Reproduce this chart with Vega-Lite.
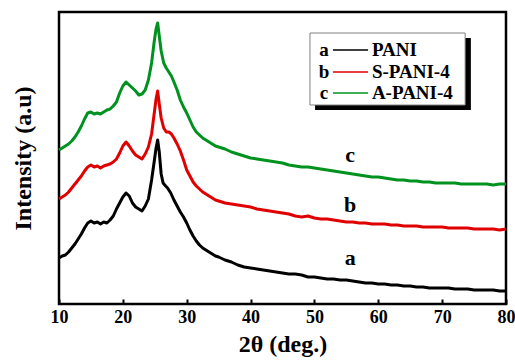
{
  "$schema": "https://vega.github.io/schema/vega-lite/v6.json",
  "width": 447,
  "height": 292,
  "autosize": {"type": "none"},
  "padding": {"left": 59, "top": 12, "right": 9, "bottom": 58},
  "background": "white",
  "config": {
    "view": {"stroke": "black", "strokeWidth": 2.5},
    "font": "Liberation Serif",
    "axis": {"grid": false}
  },
  "datasets": {
    "curves": [
      {"theta":10,"intensity":46,"sample":"a"},{"theta":10.5,"intensity":48,"sample":"a"},{"theta":11,"intensity":49,"sample":"a"},{"theta":11.5,"intensity":52,"sample":"a"},{"theta":12,"intensity":56,"sample":"a"},{"theta":12.5,"intensity":60,"sample":"a"},{"theta":13,"intensity":65,"sample":"a"},{"theta":13.5,"intensity":70,"sample":"a"},{"theta":14,"intensity":76,"sample":"a"},{"theta":14.5,"intensity":81,"sample":"a"},{"theta":15,"intensity":83,"sample":"a"},{"theta":15.5,"intensity":81,"sample":"a"},{"theta":16,"intensity":82,"sample":"a"},{"theta":16.5,"intensity":80,"sample":"a"},{"theta":17,"intensity":82,"sample":"a"},{"theta":17.5,"intensity":81,"sample":"a"},{"theta":18,"intensity":84,"sample":"a"},{"theta":18.5,"intensity":88,"sample":"a"},{"theta":19,"intensity":95,"sample":"a"},{"theta":19.5,"intensity":101,"sample":"a"},{"theta":20,"intensity":107,"sample":"a"},{"theta":20.5,"intensity":111,"sample":"a"},{"theta":21,"intensity":108,"sample":"a"},{"theta":21.5,"intensity":101,"sample":"a"},{"theta":22,"intensity":97,"sample":"a"},{"theta":22.5,"intensity":95,"sample":"a"},{"theta":23,"intensity":93,"sample":"a"},{"theta":23.5,"intensity":98,"sample":"a"},{"theta":24,"intensity":105,"sample":"a"},{"theta":24.5,"intensity":124,"sample":"a"},{"theta":24.9,"intensity":142,"sample":"a"},{"theta":25.2,"intensity":156,"sample":"a"},{"theta":25.45,"intensity":164,"sample":"a"},{"theta":25.7,"intensity":152,"sample":"a"},{"theta":26,"intensity":130,"sample":"a"},{"theta":26.3,"intensity":121,"sample":"a"},{"theta":26.7,"intensity":118,"sample":"a"},{"theta":27,"intensity":116,"sample":"a"},{"theta":27.5,"intensity":111,"sample":"a"},{"theta":28,"intensity":104,"sample":"a"},{"theta":28.5,"intensity":98,"sample":"a"},{"theta":29,"intensity":92,"sample":"a"},{"theta":29.5,"intensity":87,"sample":"a"},{"theta":30,"intensity":81,"sample":"a"},{"theta":30.5,"intensity":74,"sample":"a"},{"theta":31,"intensity":68,"sample":"a"},{"theta":31.5,"intensity":63,"sample":"a"},{"theta":32,"intensity":59,"sample":"a"},{"theta":32.5,"intensity":56,"sample":"a"},{"theta":33,"intensity":54,"sample":"a"},{"theta":33.5,"intensity":52,"sample":"a"},{"theta":34,"intensity":50,"sample":"a"},{"theta":34.5,"intensity":48,"sample":"a"},{"theta":35,"intensity":47,"sample":"a"},{"theta":36,"intensity":44,"sample":"a"},{"theta":37,"intensity":42,"sample":"a"},{"theta":38,"intensity":39,"sample":"a"},{"theta":39,"intensity":37,"sample":"a"},{"theta":40,"intensity":36,"sample":"a"},{"theta":41,"intensity":35,"sample":"a"},{"theta":42,"intensity":34,"sample":"a"},{"theta":43,"intensity":33,"sample":"a"},{"theta":44,"intensity":32,"sample":"a"},{"theta":45,"intensity":31,"sample":"a"},{"theta":46,"intensity":30,"sample":"a"},{"theta":47,"intensity":30,"sample":"a"},{"theta":48,"intensity":29,"sample":"a"},{"theta":49,"intensity":27,"sample":"a"},{"theta":50,"intensity":27,"sample":"a"},{"theta":51,"intensity":26,"sample":"a"},{"theta":52,"intensity":25,"sample":"a"},{"theta":53,"intensity":25,"sample":"a"},{"theta":54,"intensity":24,"sample":"a"},{"theta":55,"intensity":24,"sample":"a"},{"theta":56,"intensity":23,"sample":"a"},{"theta":57,"intensity":22,"sample":"a"},{"theta":58,"intensity":21,"sample":"a"},{"theta":59,"intensity":21,"sample":"a"},{"theta":60,"intensity":20,"sample":"a"},{"theta":61,"intensity":20,"sample":"a"},{"theta":62,"intensity":19,"sample":"a"},{"theta":63,"intensity":19,"sample":"a"},{"theta":64,"intensity":18,"sample":"a"},{"theta":65,"intensity":18,"sample":"a"},{"theta":66,"intensity":17,"sample":"a"},{"theta":67,"intensity":17,"sample":"a"},{"theta":68,"intensity":16,"sample":"a"},{"theta":69,"intensity":16,"sample":"a"},{"theta":70,"intensity":16,"sample":"a"},{"theta":71,"intensity":16,"sample":"a"},{"theta":72,"intensity":15,"sample":"a"},{"theta":73,"intensity":15,"sample":"a"},{"theta":74,"intensity":15,"sample":"a"},{"theta":75,"intensity":14,"sample":"a"},{"theta":76,"intensity":14,"sample":"a"},{"theta":77,"intensity":14,"sample":"a"},{"theta":78,"intensity":14,"sample":"a"},{"theta":79,"intensity":13,"sample":"a"},{"theta":80,"intensity":13,"sample":"a"},
      {"theta":10,"intensity":105,"sample":"b"},{"theta":10.5,"intensity":107,"sample":"b"},{"theta":11,"intensity":109,"sample":"b"},{"theta":11.5,"intensity":112,"sample":"b"},{"theta":12,"intensity":116,"sample":"b"},{"theta":12.5,"intensity":120,"sample":"b"},{"theta":13,"intensity":124,"sample":"b"},{"theta":13.5,"intensity":128,"sample":"b"},{"theta":14,"intensity":133,"sample":"b"},{"theta":14.5,"intensity":137,"sample":"b"},{"theta":15,"intensity":139,"sample":"b"},{"theta":15.5,"intensity":137,"sample":"b"},{"theta":16,"intensity":138,"sample":"b"},{"theta":16.5,"intensity":136,"sample":"b"},{"theta":17,"intensity":138,"sample":"b"},{"theta":17.5,"intensity":139,"sample":"b"},{"theta":18,"intensity":140,"sample":"b"},{"theta":18.5,"intensity":142,"sample":"b"},{"theta":19,"intensity":145,"sample":"b"},{"theta":19.5,"intensity":151,"sample":"b"},{"theta":20,"intensity":158,"sample":"b"},{"theta":20.5,"intensity":162,"sample":"b"},{"theta":21,"intensity":158,"sample":"b"},{"theta":21.5,"intensity":153,"sample":"b"},{"theta":22,"intensity":149,"sample":"b"},{"theta":22.5,"intensity":147,"sample":"b"},{"theta":23,"intensity":145,"sample":"b"},{"theta":23.5,"intensity":150,"sample":"b"},{"theta":24,"intensity":157,"sample":"b"},{"theta":24.5,"intensity":170,"sample":"b"},{"theta":24.9,"intensity":190,"sample":"b"},{"theta":25.2,"intensity":205,"sample":"b"},{"theta":25.45,"intensity":213,"sample":"b"},{"theta":25.7,"intensity":200,"sample":"b"},{"theta":26,"intensity":186,"sample":"b"},{"theta":26.4,"intensity":176,"sample":"b"},{"theta":26.8,"intensity":172,"sample":"b"},{"theta":27.2,"intensity":172,"sample":"b"},{"theta":27.6,"intensity":170,"sample":"b"},{"theta":28,"intensity":166,"sample":"b"},{"theta":28.5,"intensity":160,"sample":"b"},{"theta":29,"intensity":153,"sample":"b"},{"theta":29.5,"intensity":144,"sample":"b"},{"theta":30,"intensity":134,"sample":"b"},{"theta":30.5,"intensity":128,"sample":"b"},{"theta":31,"intensity":122,"sample":"b"},{"theta":31.5,"intensity":118,"sample":"b"},{"theta":32,"intensity":115,"sample":"b"},{"theta":32.5,"intensity":112,"sample":"b"},{"theta":33,"intensity":110,"sample":"b"},{"theta":33.5,"intensity":108,"sample":"b"},{"theta":34,"intensity":106,"sample":"b"},{"theta":34.5,"intensity":104,"sample":"b"},{"theta":35,"intensity":103,"sample":"b"},{"theta":36,"intensity":101,"sample":"b"},{"theta":37,"intensity":100,"sample":"b"},{"theta":38,"intensity":99,"sample":"b"},{"theta":39,"intensity":98,"sample":"b"},{"theta":40,"intensity":97,"sample":"b"},{"theta":41,"intensity":95,"sample":"b"},{"theta":42,"intensity":94,"sample":"b"},{"theta":43,"intensity":93,"sample":"b"},{"theta":44,"intensity":92,"sample":"b"},{"theta":45,"intensity":91,"sample":"b"},{"theta":46,"intensity":90,"sample":"b"},{"theta":47,"intensity":88,"sample":"b"},{"theta":48,"intensity":87,"sample":"b"},{"theta":49,"intensity":88,"sample":"b"},{"theta":50,"intensity":86,"sample":"b"},{"theta":51,"intensity":85,"sample":"b"},{"theta":52,"intensity":85,"sample":"b"},{"theta":53,"intensity":84,"sample":"b"},{"theta":54,"intensity":83,"sample":"b"},{"theta":55,"intensity":82,"sample":"b"},{"theta":56,"intensity":82,"sample":"b"},{"theta":57,"intensity":81,"sample":"b"},{"theta":58,"intensity":81,"sample":"b"},{"theta":59,"intensity":80,"sample":"b"},{"theta":60,"intensity":80,"sample":"b"},{"theta":61,"intensity":80,"sample":"b"},{"theta":62,"intensity":79,"sample":"b"},{"theta":63,"intensity":79,"sample":"b"},{"theta":64,"intensity":78,"sample":"b"},{"theta":65,"intensity":78,"sample":"b"},{"theta":66,"intensity":78,"sample":"b"},{"theta":67,"intensity":77,"sample":"b"},{"theta":68,"intensity":77,"sample":"b"},{"theta":69,"intensity":77,"sample":"b"},{"theta":70,"intensity":77,"sample":"b"},{"theta":71,"intensity":76,"sample":"b"},{"theta":72,"intensity":76,"sample":"b"},{"theta":73,"intensity":76,"sample":"b"},{"theta":74,"intensity":76,"sample":"b"},{"theta":75,"intensity":75,"sample":"b"},{"theta":76,"intensity":75,"sample":"b"},{"theta":77,"intensity":75,"sample":"b"},{"theta":78,"intensity":75,"sample":"b"},{"theta":79,"intensity":74,"sample":"b"},{"theta":80,"intensity":75,"sample":"b"},
      {"theta":10,"intensity":154,"sample":"c"},{"theta":10.5,"intensity":156,"sample":"c"},{"theta":11,"intensity":158,"sample":"c"},{"theta":11.5,"intensity":160,"sample":"c"},{"theta":12,"intensity":163,"sample":"c"},{"theta":12.5,"intensity":167,"sample":"c"},{"theta":13,"intensity":172,"sample":"c"},{"theta":13.5,"intensity":178,"sample":"c"},{"theta":14,"intensity":185,"sample":"c"},{"theta":14.5,"intensity":191,"sample":"c"},{"theta":15,"intensity":192,"sample":"c"},{"theta":15.5,"intensity":190,"sample":"c"},{"theta":16,"intensity":191,"sample":"c"},{"theta":16.5,"intensity":190,"sample":"c"},{"theta":17,"intensity":192,"sample":"c"},{"theta":17.5,"intensity":194,"sample":"c"},{"theta":18,"intensity":195,"sample":"c"},{"theta":18.5,"intensity":198,"sample":"c"},{"theta":19,"intensity":202,"sample":"c"},{"theta":19.5,"intensity":211,"sample":"c"},{"theta":20,"intensity":218,"sample":"c"},{"theta":20.5,"intensity":222,"sample":"c"},{"theta":21,"intensity":219,"sample":"c"},{"theta":21.5,"intensity":216,"sample":"c"},{"theta":22,"intensity":213,"sample":"c"},{"theta":22.5,"intensity":209,"sample":"c"},{"theta":23,"intensity":210,"sample":"c"},{"theta":23.5,"intensity":214,"sample":"c"},{"theta":24,"intensity":224,"sample":"c"},{"theta":24.5,"intensity":241,"sample":"c"},{"theta":24.9,"intensity":262,"sample":"c"},{"theta":25.2,"intensity":275,"sample":"c"},{"theta":25.45,"intensity":281,"sample":"c"},{"theta":25.7,"intensity":268,"sample":"c"},{"theta":26,"intensity":253,"sample":"c"},{"theta":26.4,"intensity":241,"sample":"c"},{"theta":26.8,"intensity":236,"sample":"c"},{"theta":27.2,"intensity":232,"sample":"c"},{"theta":27.6,"intensity":228,"sample":"c"},{"theta":28,"intensity":222,"sample":"c"},{"theta":28.5,"intensity":214,"sample":"c"},{"theta":29,"intensity":204,"sample":"c"},{"theta":29.5,"intensity":197,"sample":"c"},{"theta":30,"intensity":191,"sample":"c"},{"theta":30.5,"intensity":184,"sample":"c"},{"theta":31,"intensity":177,"sample":"c"},{"theta":31.5,"intensity":172,"sample":"c"},{"theta":32,"intensity":169,"sample":"c"},{"theta":32.5,"intensity":166,"sample":"c"},{"theta":33,"intensity":164,"sample":"c"},{"theta":33.5,"intensity":162,"sample":"c"},{"theta":34,"intensity":160,"sample":"c"},{"theta":34.5,"intensity":158,"sample":"c"},{"theta":35,"intensity":157,"sample":"c"},{"theta":36,"intensity":155,"sample":"c"},{"theta":37,"intensity":152,"sample":"c"},{"theta":38,"intensity":150,"sample":"c"},{"theta":39,"intensity":148,"sample":"c"},{"theta":40,"intensity":146,"sample":"c"},{"theta":41,"intensity":145,"sample":"c"},{"theta":42,"intensity":144,"sample":"c"},{"theta":43,"intensity":143,"sample":"c"},{"theta":44,"intensity":142,"sample":"c"},{"theta":45,"intensity":141,"sample":"c"},{"theta":46,"intensity":139,"sample":"c"},{"theta":47,"intensity":138,"sample":"c"},{"theta":48,"intensity":137,"sample":"c"},{"theta":49,"intensity":137,"sample":"c"},{"theta":50,"intensity":136,"sample":"c"},{"theta":51,"intensity":135,"sample":"c"},{"theta":52,"intensity":134,"sample":"c"},{"theta":53,"intensity":133,"sample":"c"},{"theta":54,"intensity":132,"sample":"c"},{"theta":55,"intensity":131,"sample":"c"},{"theta":56,"intensity":130,"sample":"c"},{"theta":57,"intensity":129,"sample":"c"},{"theta":58,"intensity":128,"sample":"c"},{"theta":59,"intensity":127,"sample":"c"},{"theta":60,"intensity":127,"sample":"c"},{"theta":61,"intensity":126,"sample":"c"},{"theta":62,"intensity":125,"sample":"c"},{"theta":63,"intensity":124,"sample":"c"},{"theta":64,"intensity":124,"sample":"c"},{"theta":65,"intensity":123,"sample":"c"},{"theta":66,"intensity":123,"sample":"c"},{"theta":67,"intensity":122,"sample":"c"},{"theta":68,"intensity":122,"sample":"c"},{"theta":69,"intensity":121,"sample":"c"},{"theta":70,"intensity":121,"sample":"c"},{"theta":71,"intensity":121,"sample":"c"},{"theta":72,"intensity":121,"sample":"c"},{"theta":73,"intensity":120,"sample":"c"},{"theta":74,"intensity":120,"sample":"c"},{"theta":75,"intensity":120,"sample":"c"},{"theta":76,"intensity":120,"sample":"c"},{"theta":77,"intensity":120,"sample":"c"},{"theta":78,"intensity":119,"sample":"c"},{"theta":79,"intensity":120,"sample":"c"},{"theta":80,"intensity":120,"sample":"c"}
    ],
    "curveLabels": [
      {"sample":"a","theta":55.6,"intensity":46},
      {"sample":"b","theta":55.6,"intensity":99},
      {"sample":"c","theta":55.6,"intensity":149}
    ],
    "legendRows": [
      {"sample":"a","name":"PANI","intensity":254},
      {"sample":"b","name":"S-PANI-4","intensity":232},
      {"sample":"c","name":"A-PANI-4","intensity":211}
    ]
  },
  "layer": [
    {
      "data": {"name": "curves"},
      "mark": {"type": "line", "strokeWidth": 3, "strokeJoin": "round"},
      "encoding": {
        "x": {
          "field": "theta", "type": "quantitative",
          "scale": {"domain": [10, 80], "nice": false, "zero": false},
          "axis": {
            "title": "2θ (deg.)",
            "values": [10,15,20,25,30,35,40,45,50,55,60,65,70,75,80],
            "labelExpr": "datum.value % 10 == 0 ? datum.label : ''",
            "domain": false,
            "tickSize": -5,
            "tickWidth": 2,
            "tickColor": "black",
            "labelFont": "Liberation Serif",
            "labelFontWeight": "bold",
            "labelFontSize": 18,
            "labelColor": "black",
            "labelPadding": 9,
            "labelFlush": false,
            "titleFont": "Liberation Serif",
            "titleFontWeight": "bold",
            "titleFontSize": 24,
            "titleColor": "black",
            "titlePadding": 6
          }
        },
        "y": {
          "field": "intensity", "type": "quantitative",
          "scale": {"domain": [0, 292], "nice": false},
          "axis": {
            "title": "Intensity (a.u)",
            "labels": false,
            "ticks": false,
            "domain": false,
            "titleFont": "Liberation Serif",
            "titleFontWeight": "bold",
            "titleFontSize": 24,
            "titleColor": "black",
            "titlePadding": 24
          }
        },
        "color": {
          "field": "sample", "type": "nominal",
          "scale": {"domain": ["a","b","c"], "range": ["#000000","#e00000","#00921f"]},
          "legend": null
        }
      }
    },
    {
      "data": {"name": "curveLabels"},
      "mark": {"type": "text", "font": "Liberation Serif", "fontWeight": "bold", "fontSize": 22, "color": "black", "baseline": "middle", "align": "center"},
      "encoding": {
        "x": {"field": "theta", "type": "quantitative"},
        "y": {"field": "intensity", "type": "quantitative"},
        "text": {"field": "sample"}
      }
    },
    {
      "data": {"values": [{}]},
      "mark": {"type": "rect", "fill": "black"},
      "encoding": {
        "x": {"datum": 50.1}, "x2": {"datum": 74.5},
        "y": {"datum": 266}, "y2": {"datum": 194}
      }
    },
    {
      "data": {"values": [{}]},
      "mark": {"type": "rect", "fill": "white", "stroke": "#808080", "strokeWidth": 1},
      "encoding": {
        "x": {"datum": 49.3}, "x2": {"datum": 73.6},
        "y": {"datum": 271}, "y2": {"datum": 199}
      }
    },
    {
      "data": {"name": "legendRows"},
      "mark": {"type": "rule", "strokeWidth": 1.5},
      "encoding": {
        "x": {"datum": 52.9}, "x2": {"datum": 58.4},
        "y": {"field": "intensity", "type": "quantitative"},
        "color": {"field": "sample", "type": "nominal", "legend": null}
      }
    },
    {
      "data": {"name": "legendRows"},
      "mark": {"type": "text", "font": "Liberation Serif", "fontWeight": "bold", "fontSize": 19, "color": "black", "align": "center", "baseline": "middle"},
      "encoding": {
        "x": {"datum": 51.5},
        "y": {"field": "intensity", "type": "quantitative"},
        "text": {"field": "sample"}
      }
    },
    {
      "data": {"name": "legendRows"},
      "mark": {"type": "text", "font": "Liberation Serif", "fontWeight": "bold", "fontSize": 19, "color": "black", "align": "left", "baseline": "middle"},
      "encoding": {
        "x": {"datum": 59.0},
        "y": {"field": "intensity", "type": "quantitative"},
        "text": {"field": "name"}
      }
    }
  ]
}
